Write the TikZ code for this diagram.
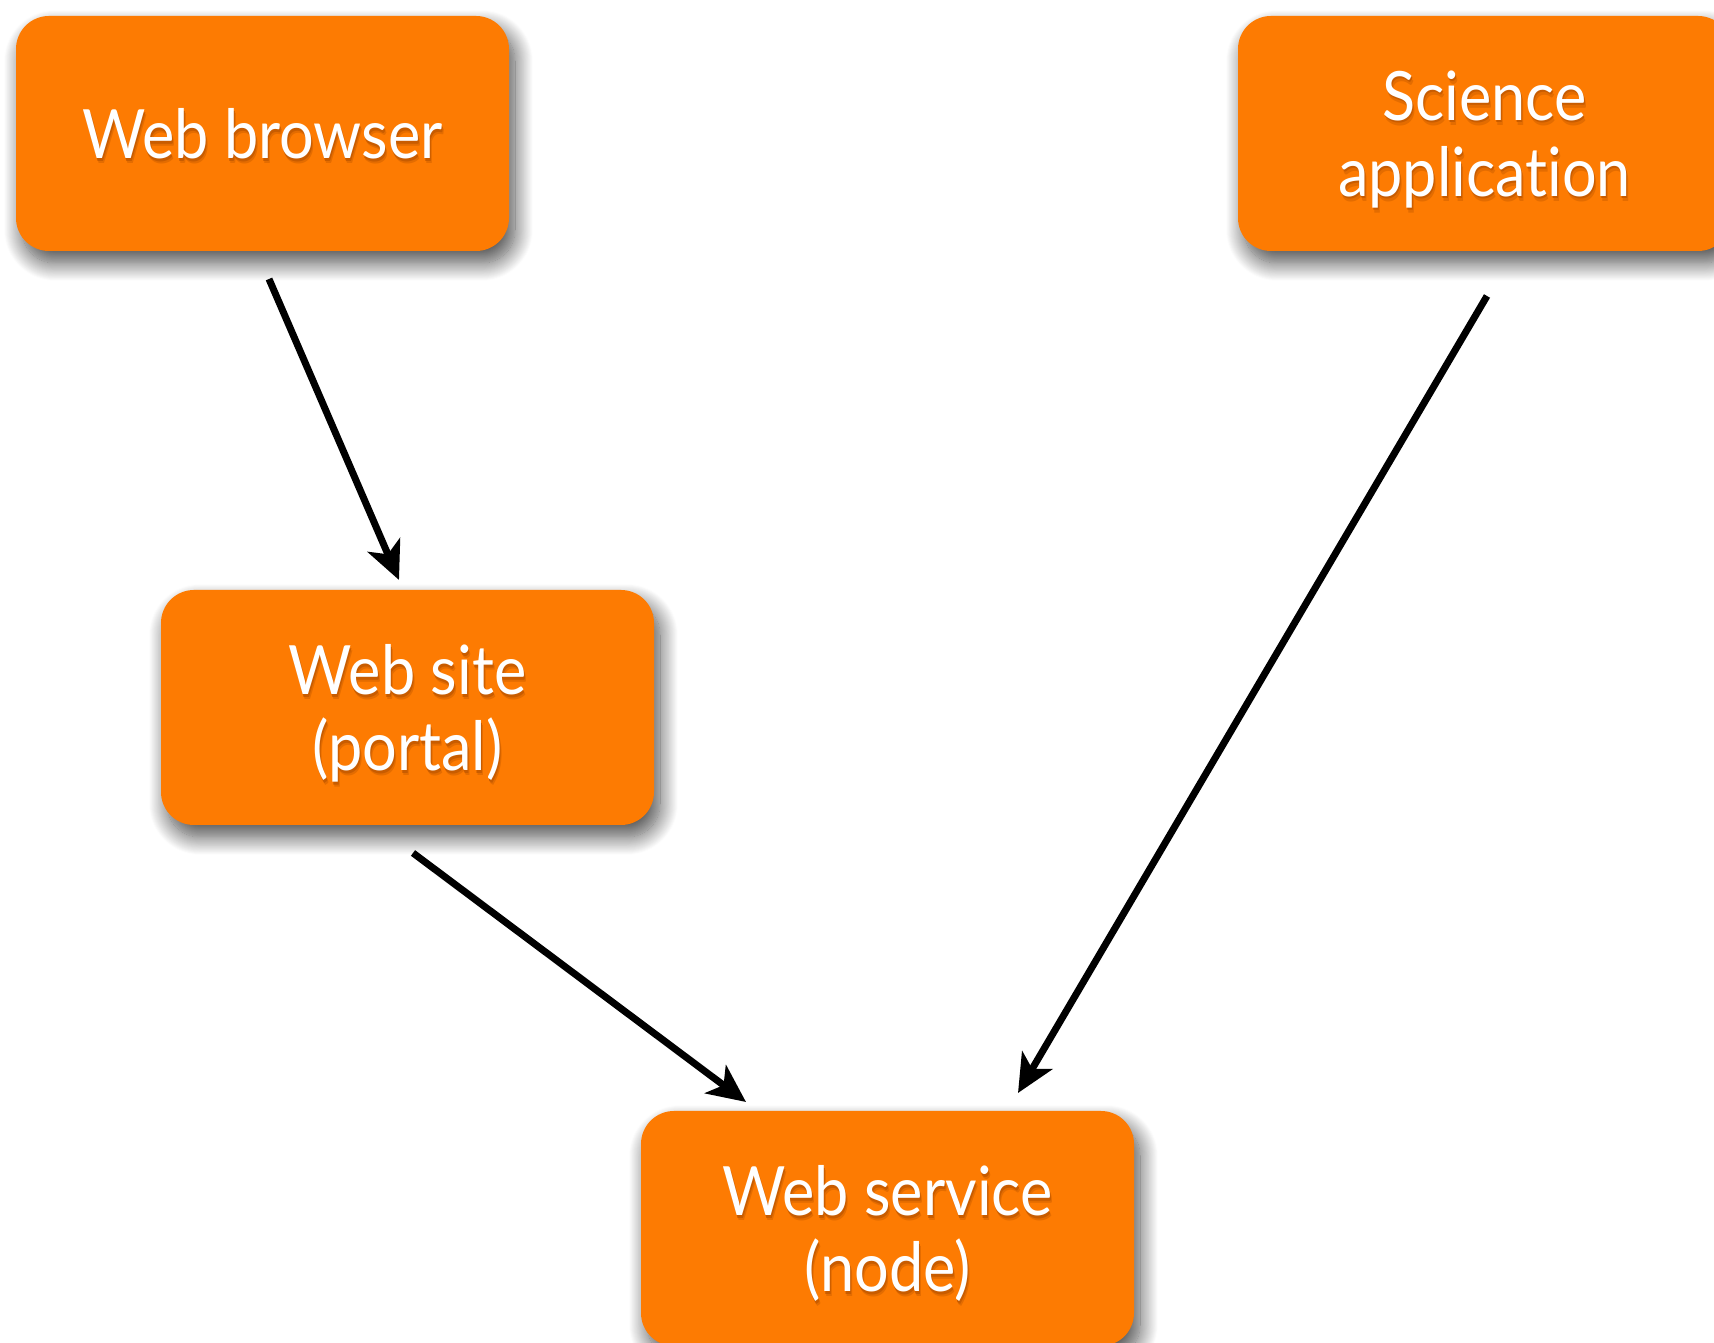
\documentclass[tikz,border=0pt]{standalone}
\usepackage{fontspec}
\setmainfont{Lato}[FakeStretch=0.9, Ligatures=NoCommon]
\usetikzlibrary{arrows.meta,shadows.blur}

\definecolor{boxorange}{RGB}{253,123,2}
\definecolor{textshade}{RGB}{200,92,0}
\definecolor{textshadelight}{RGB}{228,108,0}

% white label with a soft darker copy underneath
\newcommand\shtext[1]{%
  \rlap{\kern2pt\raisebox{-5pt}{\textcolor{textshadelight}{#1}}}%
  \rlap{\kern1pt\raisebox{-2.5pt}{\textcolor{textshade}{#1}}}#1}

\begin{document}
\begin{tikzpicture}[x=1pt,y=1pt,
  box/.style={fill=boxorange, rounded corners=33pt, minimum width=493pt,
    minimum height=235pt, inner sep=0pt, outer sep=0pt, text=white,
    align=center, font=\fontsize{68}{76}\selectfont, text depth=0pt,
    blur shadow={shadow xshift=6pt, shadow yshift=-12pt,
      shadow blur radius=18pt, shadow blur steps=20, shadow opacity=70}},
  arr/.style={line width=7pt, -{Stealth[length=38pt,width=35pt,inset=10pt]}}]
  \useasboundingbox (0,0) rectangle (1714,1343);
  \node[box] (browser) at (262.5,1209.5) {\shtext{Web browser}};
  \node[box] (science) at (1484.5,1209.5) {\shtext{Science}\\\shtext{application}};
  \node[box] (site) at (407.5,635.5) {\shtext{Web site}\\\shtext{(portal)}};
  \node[box] (service) at (887.5,114.5) {\shtext{Web service}\\\shtext{(node)}};
  % connectors
  \draw[arr] ([xshift=6.5pt,yshift=-28pt]browser.south) -- ([xshift=-8.5pt,yshift=10pt]site.north);
  \draw[arr] ([xshift=5.5pt,yshift=-28pt]site.south) -- ([xshift=-141.5pt,yshift=9pt]service.north);
  \draw[arr] ([xshift=2.5pt,yshift=-45pt]science.south) -- ([xshift=130.5pt,yshift=18pt]service.north);
\end{tikzpicture}
\end{document}
